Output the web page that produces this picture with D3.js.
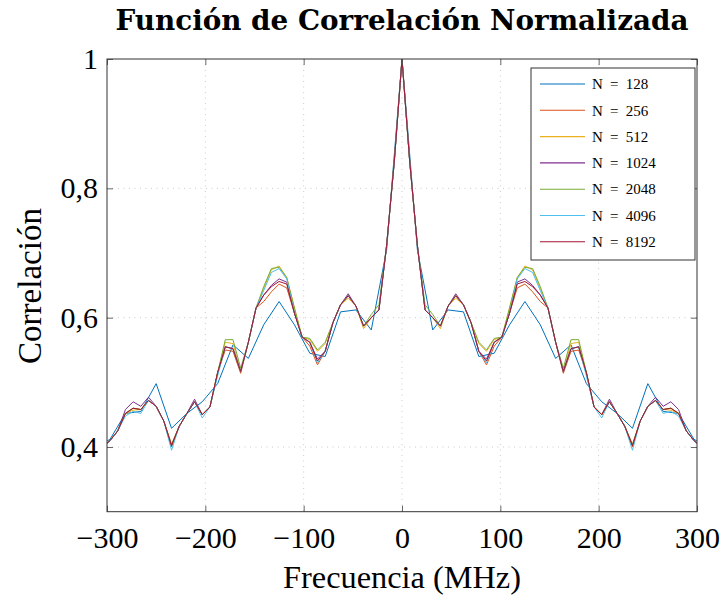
<!DOCTYPE html>
<html><head><meta charset="utf-8">
<script src="https://cdn.jsdelivr.net/npm/d3@7"></script>
<style>body{margin:0;background:#fff}</style></head>
<body>
<svg id="c" width="722" height="598"></svg>
<script>
// frequency grids (MHz)
const freqFine = [-304.69,-296.88,-289.06,-281.25,-273.44,-265.63,-257.81,-250,-242.19,-234.38,
 -226.56,-218.75,-210.94,-203.13,-195.31,-187.5,-179.69,-171.88,-164.06,-156.25,
 -148.44,-140.63,-132.81,-125,-117.19,-109.38,-101.56,-93.75,-85.94,-78.13,
 -70.31,-62.5,-54.69,-46.88,-39.06,-31.25,-23.44,-15.63,-7.81,0,
 7.81,15.63,23.44,31.25,39.06,46.88,54.69,62.5,70.31,
 78.13,85.94,93.75,101.56,109.38,117.19,125,132.81,140.63,148.44,
 156.25,164.06,171.88,179.69,187.5,195.31,203.13,210.94,218.75,226.56,
 234.38,242.19,250,257.81,265.63,273.44,281.25,289.06,296.88,304.69];
const freqCoarse = [-312.5,-296.88,-281.25,-265.63,-250,-234.38,-218.75,-203.13,-187.5,-171.88,
 -156.25,-140.63,-125,-109.38,-93.75,-78.13,-62.5,-46.88,-31.25,-15.63,0,
 15.63,31.25,46.88,62.5,78.13,93.75,109.38,125,140.63,156.25,
 171.88,187.5,203.13,218.75,234.38,250,265.63,281.25,296.88,312.5];

const corrN128 = [0.398,0.412,0.452,0.455,0.498,0.429,0.452,0.470,0.498,0.558,
 0.537,0.589,0.625,0.589,0.545,0.540,0.609,0.612,0.581,0.705,1.000,
 0.705,0.581,0.612,0.609,0.540,0.545,0.589,0.625,0.589,0.537,
 0.558,0.498,0.470,0.452,0.429,0.498,0.455,0.452,0.412,0.398];

const corrN256 = [0.400,0.410,0.425,0.452,0.460,0.458,0.472,0.463,0.440,0.400,
 0.432,0.452,0.470,0.450,0.462,0.515,0.550,0.548,0.514,0.562,
 0.615,0.625,0.640,0.652,0.646,0.607,0.570,0.556,0.527,0.548,
 0.592,0.620,0.634,0.618,0.587,0.600,0.612,0.712,0.842,1.000,
 0.842,0.712,0.612,0.600,0.587,0.618,0.634,0.620,0.592,
 0.548,0.527,0.556,0.570,0.607,0.646,0.652,0.640,0.625,0.615,
 0.562,0.514,0.548,0.550,0.515,0.462,0.450,0.470,0.452,0.432,
 0.400,0.440,0.463,0.472,0.458,0.460,0.452,0.425,0.410,0.400];

const corrN512 = [0.400,0.410,0.425,0.452,0.457,0.458,0.472,0.463,0.440,0.405,
 0.432,0.452,0.470,0.450,0.462,0.515,0.562,0.560,0.517,0.562,
 0.615,0.645,0.674,0.680,0.662,0.615,0.570,0.566,0.548,0.560,
 0.592,0.620,0.630,0.618,0.583,0.600,0.612,0.712,0.842,1.000,
 0.842,0.712,0.612,0.600,0.583,0.618,0.630,0.620,0.592,
 0.560,0.548,0.566,0.570,0.615,0.662,0.680,0.674,0.645,0.615,
 0.562,0.517,0.560,0.562,0.515,0.462,0.450,0.470,0.452,0.432,
 0.405,0.440,0.463,0.472,0.458,0.457,0.452,0.425,0.410,0.400];

const corrN1024 = [0.400,0.410,0.425,0.458,0.470,0.463,0.477,0.463,0.440,0.403,
 0.432,0.452,0.474,0.450,0.462,0.515,0.555,0.552,0.517,0.562,
 0.615,0.635,0.650,0.660,0.655,0.607,0.570,0.562,0.536,0.548,
 0.592,0.620,0.637,0.618,0.587,0.600,0.612,0.712,0.842,1.000,
 0.842,0.712,0.612,0.600,0.587,0.618,0.637,0.620,0.592,
 0.548,0.536,0.562,0.570,0.607,0.655,0.660,0.650,0.635,0.615,
 0.562,0.517,0.552,0.555,0.515,0.462,0.450,0.474,0.452,0.432,
 0.403,0.440,0.463,0.477,0.463,0.470,0.458,0.425,0.410,0.400];

const corrN2048 = [0.400,0.410,0.425,0.452,0.460,0.458,0.472,0.463,0.440,0.402,
 0.432,0.452,0.470,0.450,0.462,0.515,0.566,0.566,0.522,0.562,
 0.615,0.648,0.676,0.678,0.662,0.615,0.570,0.568,0.550,0.562,
 0.592,0.620,0.634,0.618,0.587,0.605,0.620,0.712,0.842,1.000,
 0.842,0.712,0.620,0.605,0.587,0.618,0.634,0.620,0.592,
 0.562,0.550,0.568,0.570,0.615,0.662,0.678,0.676,0.648,0.615,
 0.562,0.522,0.566,0.566,0.515,0.462,0.450,0.470,0.452,0.432,
 0.402,0.440,0.463,0.472,0.458,0.460,0.452,0.425,0.410,0.400];

const corrN4096 = [0.400,0.410,0.425,0.448,0.455,0.452,0.472,0.463,0.440,0.395,
 0.432,0.452,0.470,0.445,0.462,0.510,0.555,0.552,0.517,0.562,
 0.615,0.642,0.670,0.676,0.660,0.607,0.570,0.562,0.530,0.548,
 0.592,0.620,0.634,0.618,0.587,0.600,0.612,0.712,0.842,1.000,
 0.842,0.712,0.612,0.600,0.587,0.618,0.634,0.620,0.592,
 0.548,0.530,0.562,0.570,0.607,0.660,0.676,0.670,0.642,0.615,
 0.562,0.517,0.552,0.555,0.510,0.462,0.445,0.470,0.452,0.432,
 0.395,0.440,0.463,0.472,0.452,0.455,0.448,0.425,0.410,0.400];

const corrN8192 = [0.400,0.410,0.425,0.452,0.460,0.458,0.472,0.463,0.440,0.402,
 0.432,0.452,0.470,0.450,0.462,0.515,0.555,0.552,0.517,0.562,
 0.615,0.635,0.648,0.656,0.652,0.607,0.570,0.562,0.533,0.548,
 0.592,0.620,0.634,0.618,0.587,0.600,0.612,0.712,0.842,1.000,
 0.842,0.712,0.612,0.600,0.587,0.618,0.634,0.620,0.592,
 0.548,0.533,0.562,0.570,0.607,0.652,0.656,0.648,0.635,0.615,
 0.562,0.517,0.552,0.555,0.515,0.462,0.450,0.470,0.452,0.432,
 0.402,0.440,0.463,0.472,0.458,0.460,0.452,0.425,0.410,0.400];

const seriesLabels = ["N = 128","N = 256","N = 512","N = 1024","N = 2048","N = 4096","N = 8192"];
const seriesColors = ["#0072BD","#D95319","#EDB120","#7E2F8E","#77AC30","#4DBEEE","#A2142F"];
const xTickValues = [-300,-200,-100,0,100,200,300];
const xTickLabels = ["\u2212300","\u2212200","\u2212100","0","100","200","300"];
const yTickValues = [0.4,0.6,0.8,1];
const yTickLabels = ["0,4","0,6","0,8","1"];
const titleText = "Función de Correlación Normalizada";
const xLabelText = "Frecuencia (MHz)";
const yLabelText = "Correlación";

const series = [
  {label: seriesLabels[0], color: seriesColors[0], x: freqCoarse, y: corrN128},
  {label: seriesLabels[1], color: seriesColors[1], x: freqFine, y: corrN256},
  {label: seriesLabels[2], color: seriesColors[2], x: freqFine, y: corrN512},
  {label: seriesLabels[3], color: seriesColors[3], x: freqFine, y: corrN1024},
  {label: seriesLabels[4], color: seriesColors[4], x: freqFine, y: corrN2048},
  {label: seriesLabels[5], color: seriesColors[5], x: freqFine, y: corrN4096},
  {label: seriesLabels[6], color: seriesColors[6], x: freqFine, y: corrN8192}
];

const FONT = "'Liberation Serif','Times New Roman',serif";
const svg = d3.select("#c");
const L = 107, R = 697, T = 59, B = 511.7;
const x = d3.scaleLinear().domain([-300,300]).range([L,R]);
const y = d3.scaleLinear().domain([0.3,1]).range([B,T]);

svg.append("defs").append("clipPath").attr("id","clip")
  .append("rect").attr("x",L).attr("y",T).attr("width",R-L).attr("height",B-T);

// grid
const grid = svg.append("g").attr("stroke","#c4c4c4").attr("stroke-width",0.9).attr("stroke-dasharray","1,4.5");
grid.selectAll("line.gx").data(xTickValues.slice(1,-1)).join("line")
  .attr("x1",d=>x(d)).attr("x2",d=>x(d)).attr("y1",T).attr("y2",B);
grid.selectAll("line.gy").data(yTickValues.slice(0,-1)).join("line")
  .attr("y1",d=>y(d)).attr("y2",d=>y(d)).attr("x1",L).attr("x2",R);

// lines
const gLines = svg.append("g").attr("clip-path","url(#clip)");
series.forEach(s => {
  const pts = s.x.map((xv,i)=>[xv, s.y[i]]);
  gLines.append("path").datum(pts)
    .attr("fill","none").attr("stroke",s.color).attr("stroke-width",1)
    .attr("stroke-linejoin","round")
    .attr("d", d3.line().x(d=>x(d[0])).y(d=>y(d[1])));
});

// axes
function styleAxis(g){
  g.select(".domain").remove();
  g.selectAll(".tick line").attr("stroke","#555").attr("stroke-width",0.9);
  g.selectAll(".tick text").attr("font-family",FONT).attr("font-size",30).attr("fill","#000");
}
svg.append("g").attr("transform",`translate(0,${B})`)
  .call(d3.axisBottom(x).tickValues(xTickValues).tickSize(-6).tickPadding(15)
    .tickFormat((d,i)=>xTickLabels[i])).call(styleAxis);
svg.append("g").attr("transform",`translate(0,${T})`)
  .call(d3.axisTop(x).tickValues(xTickValues).tickSize(-6).tickFormat("")).call(styleAxis);
svg.append("g").attr("transform",`translate(${L},0)`)
  .call(d3.axisLeft(y).tickValues(yTickValues).tickSize(-6).tickPadding(9)
    .tickFormat((d,i)=>yTickLabels[i])).call(styleAxis);
svg.append("g").attr("transform",`translate(${R},0)`)
  .call(d3.axisRight(y).tickValues(yTickValues).tickSize(-6).tickFormat("")).call(styleAxis);

// frame
svg.append("rect").attr("x",L).attr("y",T).attr("width",R-L).attr("height",B-T)
  .attr("fill","none").attr("stroke","#333").attr("stroke-width",1);

function fit(sel, target){
  const w = sel.node().getComputedTextLength();
  const fs = parseFloat(sel.attr("font-size"));
  sel.attr("font-size", (fs*target/w).toFixed(2));
}

// title (wide serif bold to resemble the extended bold face)
const title = svg.append("text").attr("x",(L+R)/2).attr("y",29.5).attr("text-anchor","middle")
  .attr("font-family","'DejaVu Serif',serif").attr("font-weight","bold").attr("font-size",24).text(titleText);
fit(title, 573);

// axis labels
const xl = svg.append("text").attr("x",(L+R)/2).attr("y",588).attr("text-anchor","middle")
  .attr("font-family",FONT).attr("font-size",28).text(xLabelText);
fit(xl, 238);
const yl = svg.append("text").attr("transform","translate(41,286) rotate(-90)").attr("text-anchor","middle")
  .attr("font-family",FONT).attr("font-size",28).text(yLabelText);
fit(yl, 156);

// legend
const lg = svg.append("g");
lg.append("rect").attr("x",531).attr("y",68).attr("width",164).attr("height",192)
  .attr("fill","#fff").attr("stroke","#333").attr("stroke-width",1);
series.forEach((s,i)=>{
  const yy = 84 + 26.3*i;
  lg.append("line").attr("x1",540).attr("x2",585).attr("y1",yy).attr("y2",yy)
    .attr("stroke",s.color).attr("stroke-width",1.1);
  lg.append("text").attr("x",592).attr("y",yy).attr("dy","0.35em")
    .attr("font-family",FONT).attr("font-size",15).attr("word-spacing",3.5).text(s.label);
});
</script>
</body></html>
